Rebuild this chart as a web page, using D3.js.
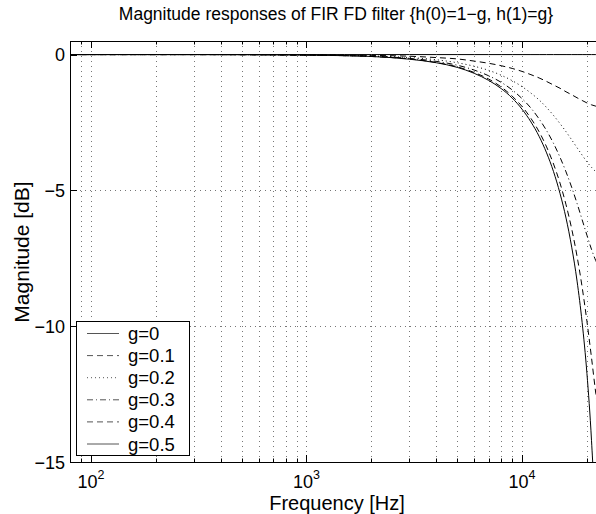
<!DOCTYPE html>
<html>
<head>
<meta charset="utf-8">
<script src="https://cdn.jsdelivr.net/npm/d3@7"></script>
<style>
  body { margin: 0; background: #fff; }
  svg { display: block; font-family: "Liberation Sans", Arial, Helvetica, sans-serif; }
</style>
</head>
<body>
<div id="chart"></div>
<script>
// frequency points [Hz] and magnitude [dB]
const freqs = [80, 300, 1000, 1500, 2000, 3000, 4000, 5000, 6000, 7000, 8000, 9000, 10000, 11000, 12000,
  13000, 14000, 15000, 16000, 17000, 18000, 19000, 20000, 21000, 22000, 23000, 24000]

const g00 = [0, 0, 0, 0, 0, 0, 0, 0, 0, 0, 0, 0, 0, 0, 0, 0, 0, 0, 0, 0, 0, 0, 0, 0, 0, 0, 0]
const g01 = [0, 0, -0.01, -0.02, -0.03, -0.06, -0.11, -0.16, -0.24, -0.32, -0.41, -0.51, -0.62, -0.74, -0.86,
  -0.99, -1.12, -1.24, -1.37, -1.48, -1.59, -1.69, -1.78, -1.85, -1.90, -1.93, -1.94]
const g02 = [0, 0, -0.01, -0.03, -0.05, -0.11, -0.19, -0.30, -0.43, -0.58, -0.76, -0.96, -1.18, -1.42, -1.67,
  -1.95, -2.24, -2.54, -2.84, -3.14, -3.43, -3.70, -3.95, -4.15, -4.31, -4.40, -4.44]
const g03 = [0, 0, -0.02, -0.04, -0.06, -0.14, -0.25, -0.39, -0.57, -0.78, -1.02, -1.30, -1.62, -1.97, -2.37,
  -2.80, -3.27, -3.78, -4.32, -4.89, -5.48, -6.08, -6.65, -7.17, -7.59, -7.86, -7.96]
const g04 = [0, 0, -0.02, -0.04, -0.07, -0.16, -0.29, -0.45, -0.66, -0.90, -1.19, -1.53, -1.91, -2.35, -2.84,
  -3.40, -4.03, -4.73, -5.53, -6.42, -7.43, -8.56, -9.82, -11.16, -12.49, -13.56, -13.98]
const g05 = [0, 0, -0.02, -0.04, -0.07, -0.17, -0.30, -0.47, -0.69, -0.95, -1.25, -1.60, -2.01, -2.48, -3.01,
  -3.62, -4.31, -5.11, -6.02, -7.09, -8.34, -9.86, -11.74, -14.20, -17.69, -23.69, null]

const seriesNames = ["g=0", "g=0.1", "g=0.2", "g=0.3", "g=0.4", "g=0.5"]
const seriesValues = [g00, g01, g02, g03, g04, g05]
const dashes = [null, "6,4", "1,3", "6,3,1,3", "6,4", null]

const yTicks = [0, -5, -10, -15]
const xMajor = [100, 1000, 10000]
const xMinor = [80, 90, 200, 300, 400, 500, 600, 700, 800, 900, 2000, 3000, 4000, 5000, 6000, 7000, 8000, 9000, 20000]

const width = 596, height = 514
const mLeft = 70, mTop = 41, mBottom = 462, mRight = 604

const x = d3.scaleLog().domain([80, 24000]).range([mLeft, mRight])
const y = d3.scaleLinear().domain([-15, 0.5]).range([mBottom, mTop])

const svg = d3.select("#chart").append("svg")
  .attr("width", width)
  .attr("height", height)

svg.append("clipPath").attr("id", "plotclip")
  .append("rect")
  .attr("x", mLeft).attr("y", mTop)
  .attr("width", mRight - mLeft).attr("height", mBottom - mTop)

// grid
const grid = svg.append("g").attr("stroke", "#777").attr("stroke-width", 1).attr("stroke-dasharray", "1,4")
grid.selectAll("line.vx")
  .data(xMajor.concat(xMinor))
  .enter().append("line")
  .attr("x1", d => Math.round(x(d)) + 0.5).attr("x2", d => Math.round(x(d)) + 0.5)
  .attr("y1", mTop).attr("y2", mBottom)
grid.selectAll("line.hy")
  .data([-5, -10])
  .enter().append("line")
  .attr("y1", d => Math.round(y(d)) + 0.5).attr("y2", d => Math.round(y(d)) + 0.5)
  .attr("x1", mLeft).attr("x2", mRight)

// curves
const line = d3.line()
  .defined(d => d[1] != null)
  .x(d => x(d[0]))
  .y(d => y(d[1]))
  .curve(d3.curveMonotoneX)

const plot = svg.append("g").attr("clip-path", "url(#plotclip)")
plot.selectAll("path")
  .data(seriesValues)
  .enter().append("path")
  .attr("fill", "none")
  .attr("stroke", "#000")
  .attr("stroke-width", 1)
  .attr("stroke-dasharray", (d, i) => dashes[i])
  .attr("d", vals => line(freqs.map((f, i) => [f, vals[i]])))

// axes box and ticks
const ax = svg.append("g").attr("stroke", "#000").attr("stroke-width", 1)
ax.append("rect")
  .attr("x", mLeft + 0.5).attr("y", mTop + 0.5)
  .attr("width", mRight - mLeft).attr("height", mBottom - mTop)
  .attr("fill", "none")

const tickLines = (data, len) => {
  data.forEach(d => {
    const px = Math.round(x(d)) + 0.5
    ax.append("line").attr("x1", px).attr("x2", px).attr("y1", mBottom).attr("y2", mBottom - len)
    ax.append("line").attr("x1", px).attr("x2", px).attr("y1", mTop).attr("y2", mTop + len)
  })
}
tickLines(xMajor, 7)
tickLines(xMinor.filter(d => d > 80), 3.5)

yTicks.forEach(d => {
  const py = Math.round(y(d)) + 0.5
  ax.append("line").attr("x1", mLeft).attr("x2", mLeft + 7).attr("y1", py).attr("y2", py)
})

// tick labels
svg.selectAll("text.ytick")
  .data(yTicks)
  .enter().append("text")
  .attr("x", mLeft - 5)
  .attr("y", d => y(d) + 6.5)
  .attr("text-anchor", "end")
  .attr("font-size", 18)
  .text(d => d === 0 ? "0" : "\u2212" + Math.abs(d))

const xt = svg.selectAll("text.xtick")
  .data(xMajor)
  .enter().append("text")
  .attr("x", d => x(d))
  .attr("y", 488)
  .attr("text-anchor", "middle")
  .attr("font-size", 18)
xt.append("tspan").text("10")
xt.append("tspan").attr("dy", -9).attr("font-size", 12.5).text(d => Math.round(Math.log10(d)))

// titles
svg.append("text")
  .attr("x", 336).attr("y", 20)
  .attr("text-anchor", "middle")
  .attr("font-size", 17.5)
  .text("Magnitude responses of FIR FD filter {h(0)=1\u2212g, h(1)=g}")

svg.append("text")
  .attr("x", 337).attr("y", 510)
  .attr("text-anchor", "middle")
  .attr("font-size", 20)
  .text("Frequency [Hz]")

svg.append("text")
  .attr("transform", "translate(29,252) rotate(-90)")
  .attr("text-anchor", "middle")
  .attr("font-size", 21)
  .text("Magnitude [dB]")

// legend
const lg = svg.append("g")
lg.append("rect")
  .attr("x", 76.5).attr("y", 321.5)
  .attr("width", 113).attr("height", 134)
  .attr("fill", "#fff").attr("stroke", "#000")

const rows = lg.selectAll("g.row")
  .data(seriesNames)
  .enter().append("g")
  .attr("transform", (d, i) => `translate(0,${333.5 + i * 22.1})`)
rows.append("line")
  .attr("x1", 87).attr("x2", 119)
  .attr("stroke", "#555").attr("stroke-width", 1)
  .attr("stroke-dasharray", (d, i) => dashes[i])
rows.append("text")
  .attr("x", 128).attr("y", 6.5)
  .attr("font-size", 18.5)
  .text(d => d)
</script>
</body>
</html>
